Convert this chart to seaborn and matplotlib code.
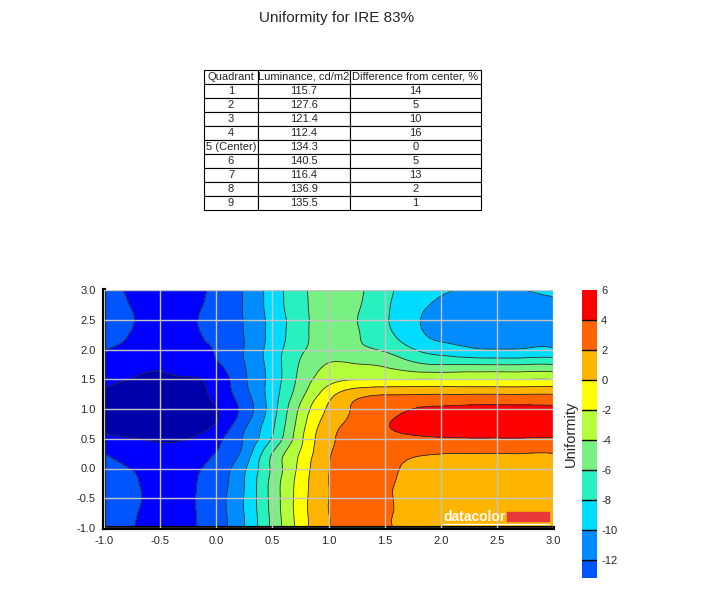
import numpy as np
import matplotlib
matplotlib.use("Agg")
import matplotlib.pyplot as plt
import matplotlib.tri as mtri
from matplotlib.colors import ListedColormap, BoundaryNorm
from matplotlib.patches import Rectangle
import seaborn as sns

sns.set_style("white")
plt.rcParams['font.family'] = ['Liberation Sans', 'DejaVu Sans']
plt.rcParams['axes.unicode_minus'] = False

# table values
quadrants = ['1', '2', '3', '4', '5 (Center)', '6', '7', '8', '9']
luminance = [115.7, 127.6, 121.4, 112.4, 134.3, 140.5, 116.4, 136.9, 135.5]
diff_center = [14, 5, 10, 16, 0, 5, 13, 2, 1]
col_labels = ['Quadrant', 'Luminance, cd/m2', 'Difference from center, %']

# uniformity field (rows from y=-1 to y=3, step 0.25)
x_pos = [-1.0, -0.75, -0.5, -0.25, 0.0, 0.25, 0.5, 0.75, 1.0, 1.25, 1.5, 1.75, 2.0, 2.25, 2.5, 2.75, 3.0]
y_pos = [-1.0, -0.75, -0.5, -0.25, 0.0, 0.25, 0.5, 0.75, 1.0, 1.25, 1.5, 1.75, 2.0, 2.25, 2.5, 2.75, 3.0]
uniformity = [
    [-13.3, -13.95, -14.5, -14.3, -12.9, -10.0, -5.5, -1.1, 1.98, 2.5, 2.2, 1.5, 1.2, 1.1, 1.05, 1.05, 1.05],
    [-13.2, -13.85, -14.5, -14.3, -12.85, -9.95, -5.4, -1.0, 1.98, 2.5, 2.2, 1.5, 1.25, 1.15, 1.1, 1.1, 1.1],
    [-13.1, -13.7, -14.5, -14.3, -12.8, -9.9, -5.3, -1.0, 1.98, 2.5, 2.2, 1.5, 1.3, 1.2, 1.2, 1.2, 1.2],
    [-13.2, -13.8, -14.5, -14.3, -13.0, -10.0, -5.3, -1.1, 1.98, 2.5, 2.2, 1.6, 1.4, 1.35, 1.3, 1.3, 1.3],
    [-13.6, -14.05, -14.6, -14.4, -13.3, -10.3, -5.6, -1.4, 1.95, 2.6, 2.3, 1.75, 1.55, 1.5, 1.5, 1.5, 1.5],
    [-14.0, -14.8, -15.3, -15.0, -13.95, -11.3, -5.9, -1.8, 1.8, 2.6, 2.5, 2.2, 2.02, 1.98, 1.98, 1.98, 1.98],
    [-15.5, -15.9, -16.3, -16.0, -14.6, -11.8, -7.8, -2.5, 1.5, 2.8, 3.3, 3.6, 3.8, 3.9, 3.9, 3.9, 3.85],
    [-16.5, -17.2, -17.4, -17.0, -15.9, -12.5, -8.4, -3.0, 1.0, 2.6, 3.8, 4.6, 4.9, 5.0, 5.05, 5.0, 4.95],
    [-16.6, -17.1, -17.3, -17.0, -16.1, -13.3, -8.9, -3.6, 0.3, 2.3, 3.3, 4.0, 4.3, 4.45, 4.5, 4.45, 4.4],
    [-16.3, -16.8, -17.0, -16.6, -15.5, -12.7, -9.0, -4.7, -0.8, 1.3, 1.85, 1.9, 1.95, 1.95, 1.95, 1.95, 1.95],
    [-15.5, -16.05, -16.3, -16.1, -15.3, -12.3, -9.2, -5.4, -2.8, -2.1, -2.05, -2.05, -2.05, -2.05, -2.05, -2.05, -2.05],
    [-15.0, -15.4, -15.7, -15.3, -14.3, -12.05, -9.1, -5.8, -3.9, -3.95, -4.3, -5.5, -6.05, -6.05, -6.1, -6.05, -6.05],
    [-13.95, -14.5, -14.9, -14.6, -13.85, -11.95, -9.1, -6.4, -5.0, -5.5, -6.3, -7.9, -9.0, -9.7, -9.95, -9.85, -9.8],
    [-13.4, -14.1, -14.8, -14.5, -13.4, -11.95, -9.3, -6.7, -5.0, -5.8, -7.4, -9.2, -10.5, -10.6, -10.7, -10.6, -10.4],
    [-13.1, -13.9, -14.9, -14.4, -13.3, -11.9, -9.3, -6.75, -5.0, -5.95, -7.7, -9.6, -10.6, -11.1, -11.2, -11.0, -10.7],
    [-13.3, -14.1, -15.0, -14.6, -13.45, -11.85, -9.1, -6.6, -5.0, -5.7, -7.6, -9.3, -10.3, -10.7, -10.8, -10.6, -10.3],
    [-13.5, -14.3, -15.0, -14.6, -13.64, -11.8, -9.1, -6.5, -5.0, -5.5, -7.5, -8.8, -9.8, -10.05, -10.1, -10.0, -9.85],
]

levels = [-20, -16, -14, -12, -10, -8, -6, -4, -2, 0, 2, 4, 6]
band_colors = ['#0000aa', '#0000ff', '#0055ff', '#008cff', '#00dcff', '#28f0be',
               '#78f082', '#b4ff3c', '#ffff00', '#ffb400', '#ff6400', '#ff0000']
cbar_ticks = [-12, -10, -8, -6, -4, -2, 0, 2, 4, 6]

fig = plt.figure(figsize=(7.1, 5.99), dpi=100)
fig.text(337 / 710, 1 - 18 / 599, 'Uniformity for IRE 83%', ha='center', va='center', fontsize=11)

# table
tax = fig.add_axes([204 / 710, 1 - 210 / 599, 277 / 710, 140 / 599])
tax.axis('off')
cells = [[q, f'{l:.1f}', str(d)] for q, l, d in zip(quadrants, luminance, diff_center)]
tbl = tax.table(cellText=cells, colLabels=col_labels, cellLoc='center',
                colWidths=[54 / 277, 92 / 277, 131 / 277], bbox=[0, 0, 1, 1])
tbl.auto_set_font_size(False)
tbl.set_fontsize(8)
for cell in tbl.get_celld().values():
    cell.set_linewidth(0.8)
    cell.set_edgecolor('black')
    cell.PAD = 0.02

# contour map, smoothed by matplotlib's cubic tri refiner
ax = fig.add_axes([104 / 710, 1 - 528 / 599, 449 / 710, 238 / 599])
X, Y = np.meshgrid(x_pos, y_pos)
Z = np.array(uniformity)
tri = mtri.Triangulation(X.ravel(), Y.ravel())
interp = mtri.CubicTriInterpolator(tri, Z.ravel(), kind='min_E')
tri_r, z_r = mtri.UniformTriRefiner(tri).refine_field(Z.ravel(), triinterpolator=interp, subdiv=3)

cmap = ListedColormap(band_colors)
norm = BoundaryNorm(levels, cmap.N)
cf = ax.tricontourf(tri_r, z_r, levels=levels, cmap=cmap, norm=norm)
ax.tricontour(tri_r, z_r, levels=levels[1:-1], colors='#2a2a2a', linewidths=0.6,
              linestyles='solid')

ticks = np.arange(-1.0, 3.01, 0.5)
ax.set_xticks(ticks)
ax.set_yticks(ticks)
ax.set_xticklabels([f'{t:.1f}' for t in ticks], fontsize=8)
ax.set_yticklabels([f'{t:.1f}' for t in ticks], fontsize=8)
ax.set_xlim(-1, 3)
ax.set_ylim(-1, 3)
ax.grid(True, color='#c4c4c4', linewidth=1)
ax.set_axisbelow(False)
for s in ['top', 'right']:
    ax.spines[s].set_visible(False)
for s in ['left', 'bottom']:
    ax.spines[s].set_linewidth(3)
    ax.spines[s].set_color('black')
ax.tick_params(direction='out', length=4, width=1, color='black', pad=2)

# watermark
ax.text(0.755, 0.028, 'datacolor', transform=ax.transAxes, color='white',
        fontsize=10, fontweight='bold', va='baseline', ha='left', zorder=5)
ax.add_patch(Rectangle((0.898, 0.029), 0.093, 0.037, transform=ax.transAxes,
                       color='#e8383a', zorder=5))
ax.plot([0.755, 0.991], [0.016, 0.016], transform=ax.transAxes, color='white', lw=1, zorder=5)

# colorbar
cax = fig.add_axes([582 / 710, 1 - 578 / 599, 15 / 710, 288 / 599])
cbar = fig.colorbar(cf, cax=cax, ticks=cbar_ticks)
cax.set_ylim(-13.2, 6)
cbar.outline.set_visible(False)
for lv in cbar_ticks[:-1]:
    cax.axhline(lv, color='black', lw=1)
cax.tick_params(length=0, labelsize=8, pad=3)
cax.set_yticklabels([str(t) for t in cbar_ticks])
cax.yaxis.set_label_position('left')
cbar.set_label('Uniformity', fontsize=10.5, labelpad=3)

fig.savefig('out.png', dpi=100)
